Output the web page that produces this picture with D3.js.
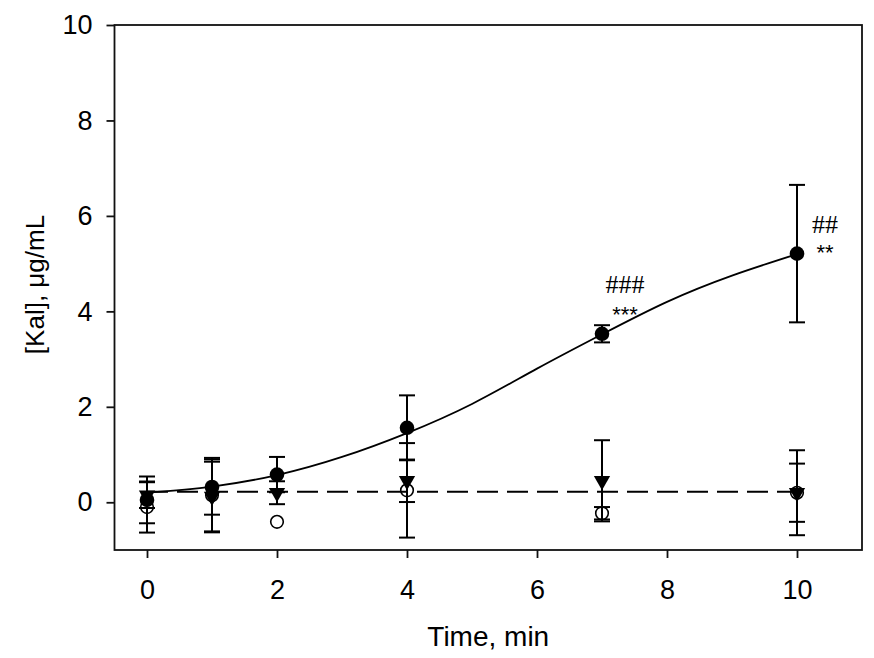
<!DOCTYPE html>
<html>
<head>
<meta charset="utf-8">
<script src="https://cdn.jsdelivr.net/npm/d3@7"></script>
<style>
  html, body { margin: 0; padding: 0; background: #fff; }
  svg { display: block; }
</style>
</head>
<body>
<svg id="chart" width="874" height="658"></svg>
<script>
// ---- data ----
const times = [0, 1, 2, 4, 7, 10];
const kalMean = [0.05, 0.32, 0.58, 1.56, 3.53, 5.21];
const kalSD   = [0.49, 0.58, 0.37, 0.68, 0.18, 1.44];
const triMean = [0.15, 0.12, 0.20, 0.45, 0.45, 0.20];
const triSD   = [0.27, 0.73, 0.24, 0.445, 0.85, 0.89];
const openMean = [-0.10, 0.15, -0.41, 0.25, -0.23, 0.20];
const openSD   = [0.535, 0.78, 0.0, 0.99, 0.13, 0.61];
const fitT = [0, 1, 2, 3, 4, 5, 6, 7, 8, 9, 10];
const fitV = [0.20, 0.33, 0.57, 0.95, 1.45, 2.06, 2.80, 3.52, 4.20, 4.75, 5.20];
const ctrlT = [0, 10];
const ctrlV = [0.22, 0.22];
const xTicks = [0, 2, 4, 6, 8, 10];
const yTicks = [0, 2, 4, 6, 8, 10];
const annotations = [
  { t: 7, v: 4.39, text: "###", kind: "hash" },
  { t: 7, v: 3.78, text: "***", kind: "star" },
  { t: 10, v: 5.65, text: "##", kind: "hash" },
  { t: 10, v: 5.08, text: "**", kind: "star" }
];

// ---- layout ----
const svg = d3.select("#chart");
const pLeft = 114.5, pRight = 862, pTop = 25, pBottom = 550;
const x = d3.scaleLinear().domain([-0.5, 11]).range([pLeft, pRight]);
const y = d3.scaleLinear().domain([-1, 10]).range([pBottom, pTop]);
const font = "Arial, 'Liberation Sans', Helvetica, sans-serif";
const sw = 1.8;

// frame
svg.append("rect")
  .attr("x", pLeft).attr("y", pTop)
  .attr("width", pRight - pLeft).attr("height", pBottom - pTop)
  .attr("fill", "none").attr("stroke", "#111").attr("stroke-width", sw);

// axes
const xAxis = svg.append("g").attr("transform", `translate(0,${pBottom})`)
  .call(d3.axisBottom(x).tickValues(xTicks).tickSize(8).tickPadding(22).tickFormat(d3.format("d")));
const yAxis = svg.append("g").attr("transform", `translate(${pLeft},0)`)
  .call(d3.axisLeft(y).tickValues(yTicks).tickSize(8).tickPadding(14).tickFormat(d3.format("d")));
[xAxis, yAxis].forEach(g => {
  g.select(".domain").remove();
  g.selectAll(".tick line").attr("stroke", "#111").attr("stroke-width", sw);
  g.selectAll(".tick text").attr("fill", "#000")
    .style("font-family", font).style("font-size", "27px");
});

// axis titles
svg.append("text")
  .attr("x", (pLeft + pRight) / 2).attr("y", 646)
  .attr("text-anchor", "middle")
  .style("font-family", font).style("font-size", "28px")
  .text("Time, min");
svg.append("text")
  .attr("transform", `translate(44,${(pTop + pBottom) / 2 - 3}) rotate(-90)`)
  .attr("text-anchor", "middle")
  .style("font-family", font).style("font-size", "26px")
  .text("[Kal], μg/mL");

// dashed control line
const line = d3.line().x(d => x(d[0])).y(d => y(d[1]));
svg.append("path")
  .datum(ctrlT.map((t, i) => [t, ctrlV[i]]))
  .attr("d", line)
  .attr("fill", "none").attr("stroke", "#000").attr("stroke-width", sw)
  .attr("stroke-dasharray", "21,9");

// fitted curve
svg.append("path")
  .datum(fitT.map((t, i) => [t, fitV[i]]))
  .attr("d", line.curve(d3.curveNatural))
  .attr("fill", "none").attr("stroke", "#000").attr("stroke-width", sw);

// error bars
function errorBars(means, sds) {
  const g = svg.append("g").attr("stroke", "#000").attr("stroke-width", 2);
  times.forEach((t, i) => {
    const sd = sds[i];
    if (!sd) return;
    const cx = x(t), y1 = y(means[i] + sd), y0 = y(means[i] - sd);
    g.append("line").attr("x1", cx).attr("x2", cx).attr("y1", y1).attr("y2", y0);
    g.append("line").attr("x1", cx - 8).attr("x2", cx + 8).attr("y1", y1).attr("y2", y1);
    g.append("line").attr("x1", cx - 8).attr("x2", cx + 8).attr("y1", y0).attr("y2", y0);
  });
}
errorBars(openMean, openSD);
errorBars(triMean, triSD);
errorBars(kalMean, kalSD);

// markers
svg.append("g").selectAll("circle")
  .data(times.map((t, i) => [t, kalMean[i]]))
  .join("circle")
  .attr("cx", d => x(d[0])).attr("cy", d => y(d[1])).attr("r", 7.3)
  .attr("fill", "#000");

const tri = d3.symbol().type(d3.symbolTriangle).size(115);
svg.append("g").selectAll("path")
  .data(times.map((t, i) => [t, triMean[i]]))
  .join("path")
  .attr("d", tri)
  .attr("transform", d => `translate(${x(d[0])},${y(d[1])}) rotate(180)`)
  .attr("fill", "#000");

svg.append("g").selectAll("circle")
  .data(times.map((t, i) => [t, openMean[i]]))
  .join("circle")
  .attr("cx", d => x(d[0])).attr("cy", d => y(d[1])).attr("r", 6.3)
  .attr("fill", "none").attr("stroke", "#000").attr("stroke-width", 1.6);

// significance annotations
svg.append("g").selectAll("text")
  .data(annotations)
  .join("text")
  .attr("x", d => x(d.t) + (d.t === 10 ? 28 : 23))
  .attr("y", d => y(d.v))
  .attr("text-anchor", "middle")
  .style("font-family", d => d.kind === "hash" ? "'Liberation Serif', 'Times New Roman', serif" : font)
  .style("font-size", d => d.kind === "hash" ? "26px" : "22px")
  .text(d => d.text);
</script>
</body>
</html>
